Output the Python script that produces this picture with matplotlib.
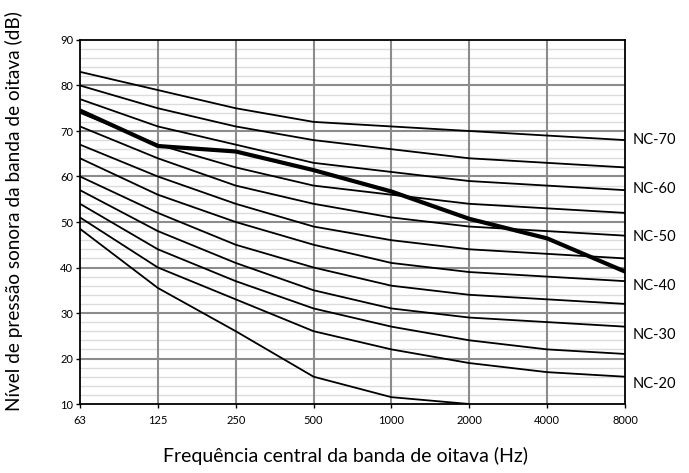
import numpy as np
import matplotlib.pyplot as plt

freqs = ['63', '125', '250', '500', '1000', '2000', '4000', '8000']

nc_lowest = [48.5, 35.5, 26, 16, 11.5, 10, np.nan, np.nan]
nc20 = [51, 40, 33, 26, 22, 19, 17, 16]
nc25 = [54, 44, 37, 31, 27, 24, 22, 21]
nc30 = [57, 48, 41, 35, 31, 29, 28, 27]
nc35 = [60, 52, 45, 40, 36, 34, 33, 32]
nc40 = [64, 56, 50, 45, 41, 39, 38, 37]
nc45 = [67, 60, 54, 49, 46, 44, 43, 42]
nc50 = [71, 64, 58, 54, 51, 49, 48, 47]
nc55 = [74, 67, 62, 58, 56, 54, 53, 52]
nc60 = [77, 71, 67, 63, 61, 59, 58, 57]
nc65 = [80, 75, 71, 68, 66, 64, 63, 62]
nc70 = [83, 79, 75, 72, 71, 70, 69, 68]

measured = [74.5, 66.7, 65.5, 61.4, 56.7, 50.7, 46.4, 39.1]

curve_labels = ['NC-70', 'NC-60', 'NC-50', 'NC-40', 'NC-30', 'NC-20']
label_levels = [68, 57.3, 46.6, 35.9, 25.2, 14.5]

plt.rcParams['font.family'] = ['Lato', 'DejaVu Sans']

fig = plt.figure(figsize=(6.89, 4.73), dpi=100)
ax = fig.add_axes([80 / 689, 1 - 404 / 473, 545 / 689, 364 / 473])

x = np.arange(len(freqs))

# grid
for v in range(12, 90, 2):
    if v % 10:
        ax.axhline(v, color='#dcdcdc', lw=1.0, zorder=0)
for v in range(20, 90, 10):
    ax.axhline(v, color='#8c8c8c', lw=1.5, zorder=0)
for xi in x[1:-1]:
    ax.axvline(xi, color='#8c8c8c', lw=1.5, zorder=0)

for curve in [nc_lowest, nc20, nc25, nc30, nc35, nc40, nc45, nc50, nc55, nc60, nc65, nc70]:
    ax.plot(x, curve, color='black', lw=1.3, zorder=2)

ax.plot(x, measured, color='black', lw=3, zorder=3)

ax.set_xlim(0, 7)
ax.set_ylim(10, 90)
ax.set_xticks(x)
ax.set_xticklabels(freqs, fontsize=8)
ax.set_yticks(range(10, 91, 10))
ax.tick_params(axis='y', labelsize=8, length=3, width=1, pad=2)
ax.tick_params(axis='x', length=3, width=1, pad=5)

for s in ax.spines.values():
    s.set_color('black')
    s.set_linewidth(1.3)

for lab, lev in zip(curve_labels, label_levels):
    ax.text(7.1, lev, lab, fontsize=10.5, va='center', ha='left', clip_on=False)

fig.text(346 / 689, 1 - 456 / 473, 'Frequência central da banda de oitava (Hz)',
         fontsize=14, ha='center', va='center')
fig.text(14 / 689, 1 - 211 / 473, 'Nível de pressão sonora da banda de oitava (dB)',
         fontsize=13.7, ha='center', va='center', rotation=90)

fig.savefig('out.png', dpi=100)
